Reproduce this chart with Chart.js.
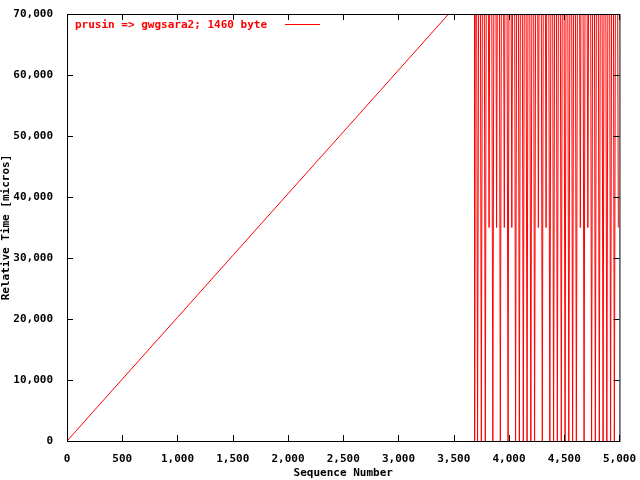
<!DOCTYPE html>
<html><head><meta charset="utf-8">
<script src="https://cdn.jsdelivr.net/npm/chart.js@4"></script>
<style>html,body{margin:0;background:#fff}#c{display:block}</style>
</head><body>
<canvas id="c" width="640" height="480"></canvas>
<script>
const seriesLabel = "prusin => gwgsara2; 1460 byte";
const rampSeq = [0, 500, 1000, 1500, 2000, 2500, 3000, 3454, 3689];
const rampTime = [0, 10130, 20260, 30400, 40530, 50660, 60790, 70000, 74760];
const burstSeq = [3689,3700,3716,3734,3750,3768,3786,3802,3820,3836,3854,3872,3888,3906,3922,3940,3958,3974,3992,4008,4026,4044,4060,4078,4094,4112,4130,4146,4164,4180,4198,4216,4232,4250,4266,4284,4302,4318,4336,4352,4370,4388,4404,4422,4438,4456,4474,4490,4508,4524,4542,4560,4576,4594,4610,4628,4646,4662,4680,4696,4714,4732,4748,4766,4782,4800,4818,4834,4852,4868,4886,4904,4920,4938,4954,4972,4990,5000];
const burstTime = [0,140000,0,140000,0,140000,0,140000,35000,140000,0,140000,35000,140000,0,140000,35000,140000,0,140000,35000,140000,0,140000,0,140000,0,140000,0,140000,0,140000,0,140000,35000,140000,0,140000,35000,140000,0,140000,0,140000,0,140000,0,140000,0,140000,0,140000,0,140000,0,140000,35000,140000,0,140000,35000,140000,0,140000,0,140000,0,140000,0,140000,0,140000,0,140000,0,140000,35000];
const xTicks = [0,500,1000,1500,2000,2500,3000,3500,4000,4500,5000];
const yTicks = [0,10000,20000,30000,40000,50000,60000,70000];

const pts = rampSeq.map((x,i)=>({x, y: rampTime[i]})).concat(burstSeq.map((x,i)=>({x, y: burstTime[i]})));
const FONT = {family: "'DejaVu Sans Mono', monospace", size: 11, weight: 'bold'};

const frame = {
  id: 'frame',
  afterDraw(ch) {
    const {ctx, chartArea: a, scales: {x, y}} = ch;
    ctx.save();
    ctx.strokeStyle = '#000'; ctx.lineWidth = 1;
    ctx.strokeRect(a.left + 0.5, a.top + 0.5, a.right - a.left, a.bottom - a.top);
    ctx.beginPath();
    xTicks.forEach(v => { const p = Math.round(x.getPixelForValue(v)) + 0.5;
      ctx.moveTo(p, a.bottom); ctx.lineTo(p, a.bottom - 6);
      ctx.moveTo(p, a.top); ctx.lineTo(p, a.top + 6); });
    yTicks.forEach(v => { const p = Math.round(y.getPixelForValue(v)) + 0.5;
      ctx.moveTo(a.left, p); ctx.lineTo(a.left + 6, p);
      ctx.moveTo(a.right, p); ctx.lineTo(a.right - 6, p); });
    ctx.stroke();
    ctx.font = "bold 11px 'DejaVu Sans Mono', monospace";
    ctx.fillStyle = '#f00'; ctx.textBaseline = 'middle'; ctx.textAlign = 'left';
    ctx.fillText(seriesLabel, 75, 25);
    ctx.strokeStyle = '#f00';
    ctx.beginPath(); ctx.moveTo(285, 24.5); ctx.lineTo(320, 24.5); ctx.stroke();
    ctx.restore();
  }
};

new Chart(document.getElementById('c'), {
  type: 'line',
  data: { datasets: [{ label: seriesLabel, data: pts, borderColor: '#f00', borderWidth: 1, pointRadius: 0, tension: 0, fill: false }] },
  options: {
    responsive: false, animation: false, devicePixelRatio: 1,
    layout: { padding: { top: 14, right: 20, left: 0, bottom: 0 } },
    plugins: { legend: { display: false }, tooltip: { enabled: false } },
    scales: {
      x: { type: 'linear', min: 0, max: 5000,
        afterBuildTicks: s => { s.ticks = xTicks.map(v => ({value: v})); },
        afterFit: s => { s.height = 39; },
        grid: { display: false }, border: { display: false },
        ticks: { color: '#000', font: FONT, padding: 4, maxRotation: 0 },
        title: { display: true, text: 'Sequence Number', color: '#000', font: FONT, padding: {top: 4, bottom: 0} } },
      y: { type: 'linear', min: 0, max: 70000,
        afterBuildTicks: s => { s.ticks = yTicks.map(v => ({value: v})); },
        afterFit: s => { s.width = 67; },
        grid: { display: false }, border: { display: false },
        ticks: { color: '#000', font: FONT, padding: 6 },
        title: { display: true, text: 'Relative Time [micros]', color: '#000', font: FONT, padding: {top: 0, bottom: 2} } }
    }
  },
  plugins: [frame]
});
</script>
</body></html>
